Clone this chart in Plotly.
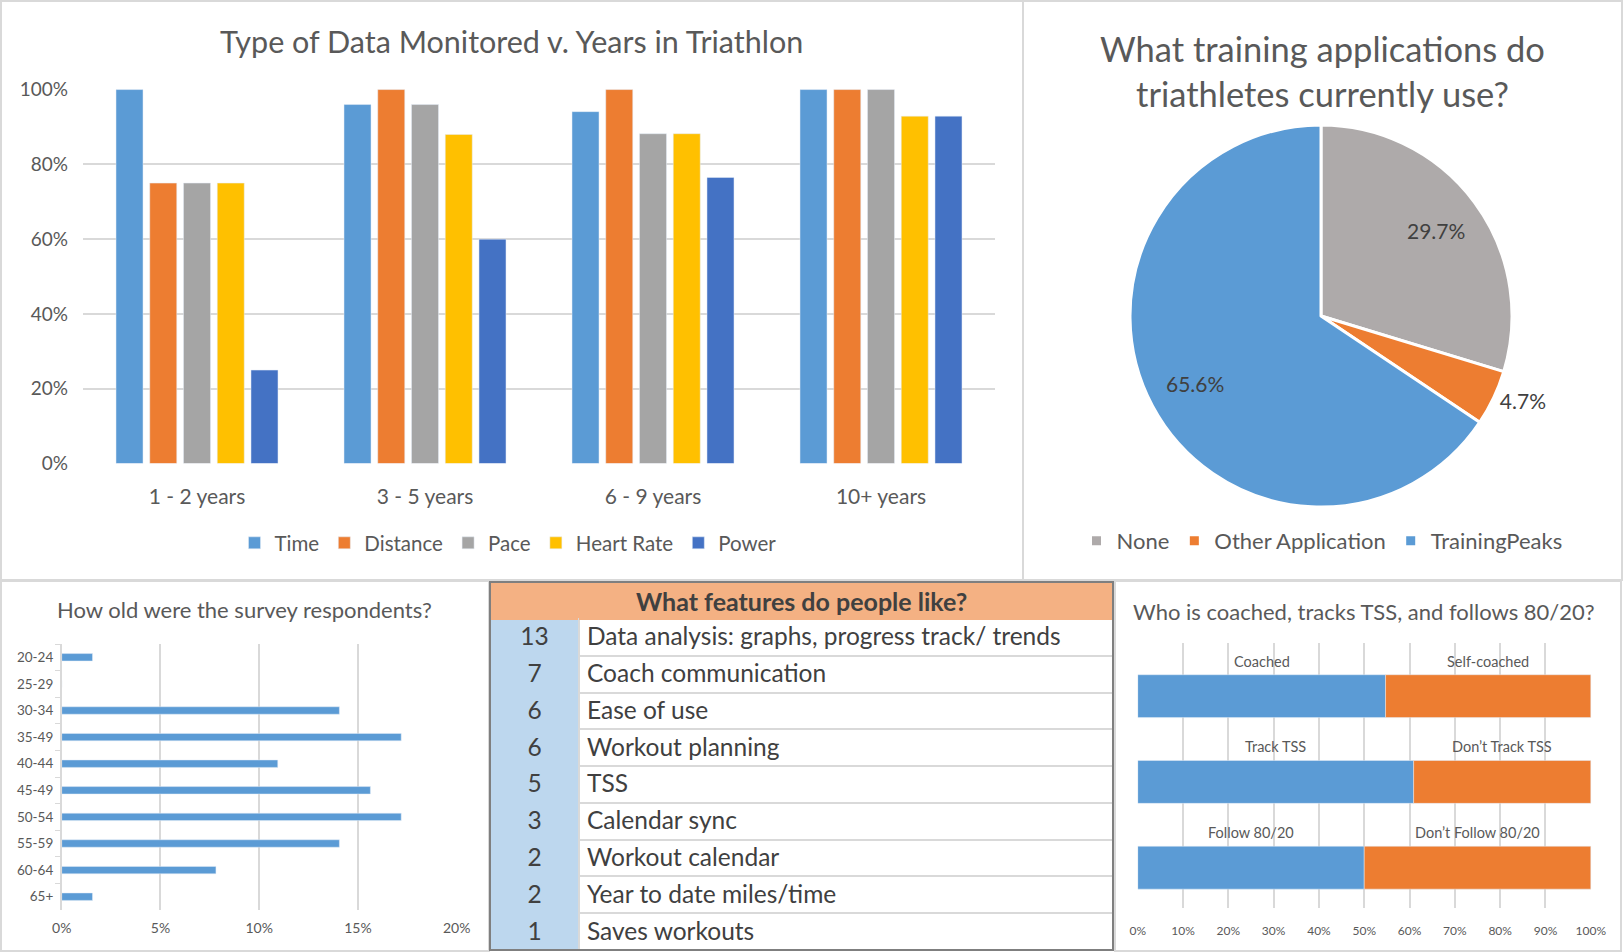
import math
import plotly.graph_objects as go

W, H = 1623, 952
def fx(p): return p / W
def fy(p): return 1 - p / H

# ---------------- data ----------------
years = ["1 - 2 years", "3 - 5 years", "6 - 9 years", "10+ years"]
time_pct = [1.00, 0.96, 0.941, 1.00]
distance_pct = [0.75, 1.00, 1.00, 1.00]
pace_pct = [0.75, 0.96, 0.882, 1.00]
heart_rate_pct = [0.75, 0.88, 0.882, 0.929]
power_pct = [0.25, 0.60, 0.765, 0.929]

app_labels = ["None", "Other Application", "TrainingPeaks"]
app_shares = [29.7, 4.7, 65.6]

age_groups = ["20-24", "25-29", "30-34", "35-49", "40-44", "45-49", "50-54", "55-59", "60-64", "65+"]
age_shares = [0.0156, 0.0, 0.1406, 0.1719, 0.1094, 0.1563, 0.1719, 0.1406, 0.0781, 0.0156]

feature_counts = [13, 7, 6, 6, 5, 3, 2, 2, 1]
feature_names = ["Data analysis: graphs, progress track/ trends", "Coach communication", "Ease of use",
                 "Workout planning", "TSS", "Calendar sync", "Workout calendar",
                 "Year to date miles/time", "Saves workouts"]

habit_rows = ["coached", "tss", "follow"]
yes_labels = ["Coached", "Track TSS", "Follow 80/20"]
no_labels = ["Self-coached", "Don\u2019t Track TSS", "Don\u2019t Follow 80/20"]
yes_share = [0.547, 0.609, 0.500]
no_share = [0.453, 0.391, 0.500]

# ---------------- styles ----------------
FONT = "Lato, 'Open Sans', sans-serif"
TXT = "#595959"
DARK = "#404040"
GRID = "#D9D9D9"
BLUE, ORANGE, GREY, GOLD, DBLUE = "#5B9BD5", "#ED7D31", "#A5A5A5", "#FFC000", "#4472C4"

PIE_CX, PIE_CY, PIE_R = 1321, 316, 191

fig = go.Figure()

# grouped bar chart
for name, vals, col in [("Time", time_pct, BLUE), ("Distance", distance_pct, ORANGE),
                        ("Pace", pace_pct, GREY), ("Heart Rate", heart_rate_pct, GOLD),
                        ("Power", power_pct, DBLUE)]:
    fig.add_trace(go.Bar(x=years, y=vals, name=name, marker_color=col,
                         xaxis="x", yaxis="y", legend="legend", hoverinfo="skip"))

# pie (small slice labelled outside by plotly, big slices labelled along their mid-angle)
pie_text = ["" if v > 10 else "%{value:.1f}%" for v in app_shares]
fig.add_trace(go.Pie(labels=app_labels, values=app_shares, sort=False, direction="clockwise",
                     rotation=0, marker=dict(colors=["#AEAAAA", ORANGE, BLUE],
                                             line=dict(color="white", width=3)),
                     texttemplate=pie_text, textposition="outside",
                     textfont=dict(size=21, color=DARK, family=FONT),
                     domain=dict(x=[fx(PIE_CX - PIE_R), fx(PIE_CX + PIE_R)],
                                 y=[fy(PIE_CY + PIE_R), fy(PIE_CY - PIE_R)]),
                     legend="legend2", hoverinfo="skip"))

# age chart
fig.add_trace(go.Bar(x=age_shares, y=age_groups, orientation="h", width=0.28,
                     marker=dict(color=BLUE), xaxis="x2", yaxis="y2",
                     showlegend=False, hoverinfo="skip"))

# stacked 100% chart
fig.add_trace(go.Bar(x=yes_share, y=habit_rows, orientation="h", width=0.5, offsetgroup="h",
                     marker_color=BLUE, xaxis="x3", yaxis="y3", showlegend=False, hoverinfo="skip"))
fig.add_trace(go.Bar(x=no_share, y=habit_rows, base=yes_share, orientation="h", width=0.5,
                     offsetgroup="h", marker_color=ORANGE, xaxis="x3", yaxis="y3",
                     showlegend=False, hoverinfo="skip"))

# table
row_h = (950 - 619) / len(feature_counts)
fig.add_trace(go.Table(
    domain=dict(x=[fx(490), fx(1113)], y=[0, fy(582)]),
    columnwidth=[89, 534],
    header=dict(values=["", ""], fill_color="#F4B183", line=dict(color="#F4B183", width=1),
                height=37),
    cells=dict(values=[feature_counts, feature_names],
               fill_color=[["#BDD7EE"] * len(feature_counts), ["white"] * len(feature_counts)],
               line=dict(color=["#BDD7EE", "#D9D9D9"], width=2),
               align=["center", "left"],
               font=dict(family=FONT, size=24.5, color=DARK),
               height=row_h)))

annotations = [
    dict(text="Type of Data Monitored v. Years in Triathlon", x=fx(511), y=fy(41),
         font=dict(size=30.5, color=TXT)),
    dict(text="What training applications do<br>triathletes currently use?", x=fx(1322), y=fy(71),
         font=dict(size=34.5, color=TXT)),
    dict(text="How old were the survey respondents?", x=fx(245), y=fy(609),
         font=dict(size=22, color=TXT)),
    dict(text="Who is coached, tracks TSS, and follows 80/20?", x=fx(1364), y=fy(611),
         font=dict(size=22, color=TXT)),
    dict(text="<b>What features do people like?</b>", x=fx(801), y=fy(601),
         font=dict(size=25, color=DARK)),
]
for a in annotations:
    a.update(xref="paper", yref="paper", showarrow=False, xanchor="center", yanchor="middle")

# pie labels for the large slices, placed at 75% of the radius on each slice's mid-angle
total = sum(app_shares)
cum = 0.0
for v in app_shares:
    mid = (cum + v / 2) / total * 2 * math.pi
    cum += v
    if v > 10:
        rr = 0.75 * PIE_R
        annotations.append(dict(text=f"{v:.1f}%", xref="paper", yref="paper", showarrow=False,
                                x=fx(PIE_CX + rr * math.sin(mid)), y=fy(PIE_CY - rr * math.cos(mid)),
                                xanchor="center", yanchor="middle",
                                font=dict(size=21, color=DARK)))

for i, row in enumerate(habit_rows):
    annotations.append(dict(text=yes_labels[i], x=yes_share[i] / 2, y=row, xref="x3", yref="y3",
                            yshift=35, showarrow=False, font=dict(size=14.5, color=TXT)))
    annotations.append(dict(text=no_labels[i], x=yes_share[i] + no_share[i] / 2, y=row,
                            xref="x3", yref="y3", yshift=35, showarrow=False,
                            font=dict(size=14.5, color=TXT)))

def rect(x0, y0, x1, y1, color=GRID, w=2):
    return dict(type="rect", xref="paper", yref="paper", x0=fx(x0), x1=fx(x1), y0=fy(y1), y1=fy(y0),
                line=dict(color=color, width=w), fillcolor="rgba(0,0,0,0)", layer="above")

shapes = [rect(1, 1, 1023, 580), rect(1023, 1, 1622, 580), rect(1, 581, 489, 951),
          rect(1115, 581, 1621, 951), rect(490, 582, 1113, 950, "#7F7F7F", 2)]

fig.update_layout(
    width=W, height=H, margin=dict(l=0, r=0, t=0, b=0, pad=0, autoexpand=False),
    paper_bgcolor="white", plot_bgcolor="white",
    font=dict(family=FONT, color=TXT),
    barmode="group", bargap=0.26, bargroupgap=0.2,
    annotations=annotations, shapes=shapes,
    xaxis=dict(domain=[fx(83), fx(995)], anchor="y", tickfont=dict(size=21, color=TXT),
               showgrid=False, showline=False, ticks="", ticklabelstandoff=18, automargin=False),
    yaxis=dict(domain=[fy(463.6), fy(89.2)], anchor="x", range=[0, 1.001], dtick=0.2,
               tickformat=".0%", gridcolor=GRID, gridwidth=1.5, zeroline=False,
               tickfont=dict(size=19, color=TXT), ticklabelstandoff=14, automargin=False),
    xaxis2=dict(domain=[fx(61.7), fx(457.7)], anchor="y2", range=[0, 0.2005], dtick=0.05,
                tickformat=".0%", gridcolor=GRID, gridwidth=1.5, zeroline=False,
                tickfont=dict(size=14, color=TXT), ticklabelstandoff=8, automargin=False),
    yaxis2=dict(domain=[fy(910), fy(644)], anchor="x2", autorange="reversed",
                showline=True, linecolor=GRID, linewidth=1.5, ticks="outside",
                tickson="boundaries", ticklen=5, tickcolor=GRID, showgrid=False,
                tickfont=dict(size=13.5, color=TXT), ticklabelstandoff=4, automargin=False),
    xaxis3=dict(domain=[fx(1137.7), fx(1591.7)], anchor="y3", range=[0, 1.002], dtick=0.1,
                tickformat=".0%", gridcolor=GRID, gridwidth=1.5, zeroline=False,
                tickfont=dict(size=12, color=TXT), ticklabelstandoff=14, automargin=False),
    yaxis3=dict(domain=[fy(908), fy(643)], anchor="x3", type="category", range=[2.47, -0.62],
                showticklabels=False, showgrid=False, zeroline=False, automargin=False),
    legend=dict(orientation="h", x=fx(508), y=fy(543), xanchor="center", yanchor="middle",
                font=dict(size=20.5, color=TXT), itemwidth=30, bgcolor="rgba(0,0,0,0)"),
    legend2=dict(orientation="h", x=fx(1322), y=fy(541), xanchor="center", yanchor="middle",
                 font=dict(size=22, color=TXT), itemwidth=30, bgcolor="rgba(0,0,0,0)"),
)

fig.write_html("out.html", post_script="document.body.style.margin='0';")
